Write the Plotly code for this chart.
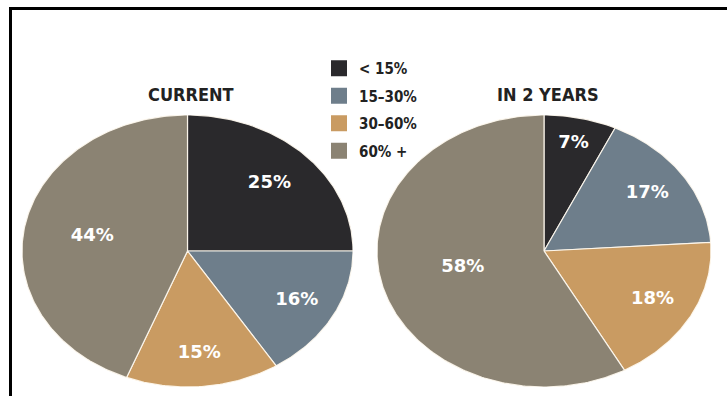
import numpy as np
import plotly.graph_objects as go

# Share of workload per band, now and two years out
bands = ["< 15%", "15\u201330%", "30\u201360%", "60% +"]
current = [25, 16, 15, 44]
in_two_years = [7, 17, 18, 58]
panel_titles = ["CURRENT", "IN 2 YEARS"]
colors = ["#2a292c", "#6e7e8b", "#c99b62", "#8b8373"]

W, H = 727, 396

fig = go.Figure()


def add_pie(values, xa, ya):
    total = float(sum(values))
    start = 0.0
    for val, col in zip(values, colors):
        frac = val / total
        end = start + frac
        th = np.linspace(start * 2 * np.pi, end * 2 * np.pi, max(8, int(val * 4)))
        xs = np.concatenate([[0.0], np.sin(th), [0.0]])
        ys = np.concatenate([[0.0], np.cos(th), [0.0]])
        fig.add_trace(go.Scatter(
            x=xs, y=ys, xaxis=xa, yaxis=ya, mode="lines", fill="toself",
            fillcolor=col, line=dict(color="rgba(255,250,240,0.9)", width=1.2),
            hoverinfo="skip", showlegend=False))
        # labels of bigger slices sit nearer the centre
        r = 0.85 - 0.6 * frac
        mid = (start + end) / 2 * 2 * np.pi
        fig.add_trace(go.Scatter(
            x=[r * np.sin(mid)], y=[r * np.cos(mid)],
            xaxis=xa, yaxis=ya, mode="text", text=[f"{val}%"],
            textfont=dict(family="DejaVu Sans, Verdana, sans-serif",
                          size=18, color="white", weight="bold"),
            hoverinfo="skip", showlegend=False))
        start = end


add_pie(current, "x", "y")
add_pie(in_two_years, "x2", "y2")

# Legend entries
for i, (name, col) in enumerate(zip(bands, colors)):
    fig.add_trace(go.Scatter(
        x=[None], y=[None], mode="markers", name=name, legendgroup=f"g{i}",
        marker=dict(symbol="square", size=16, color=col)))

cond = "Liberation Sans Narrow, DejaVu Sans Condensed, Arial Narrow, sans-serif"
ax = dict(range=[-1, 1], visible=False, fixedrange=True)
fig.update_layout(
    width=W, height=H,
    margin=dict(l=0, r=0, t=0, b=0),
    paper_bgcolor="white", plot_bgcolor="white",
    xaxis=dict(domain=[22 / W, 353 / W], **ax),
    yaxis=dict(domain=[1 - 387 / H, 1 - 115 / H], **ax),
    xaxis2=dict(domain=[377 / W, 711 / W], **ax),
    yaxis2=dict(domain=[1 - 387 / H, 1 - 115 / H], **ax),
    legend=dict(x=319 / W, y=1 - 52 / H, xanchor="left", yanchor="top",
                bgcolor="rgba(0,0,0,0)", tracegroupgap=5,
                font=dict(family=cond, size=15, color="#222", weight="bold")),
    showlegend=True,
    annotations=[
        dict(text=panel_titles[0], x=191 / W, y=1 - 95 / H, xref="paper", yref="paper",
             showarrow=False, xanchor="center", yanchor="middle",
             font=dict(family=cond, size=18, color="#222", weight="bold")),
        dict(text=panel_titles[1], x=548 / W, y=1 - 95 / H, xref="paper", yref="paper",
             showarrow=False, xanchor="center", yanchor="middle",
             font=dict(family=cond, size=18, color="#222", weight="bold")),
    ],
    shapes=[
        dict(type="line", xref="paper", yref="paper", x0=10.5 / W, x1=1,
             y0=1 - 8.5 / H, y1=1 - 8.5 / H, line=dict(color="black", width=3)),
        dict(type="line", xref="paper", yref="paper", x0=10.5 / W, x1=10.5 / W,
             y0=0, y1=1 - 7 / H, line=dict(color="black", width=3)),
    ],
)

fig.write_html("out.html")
